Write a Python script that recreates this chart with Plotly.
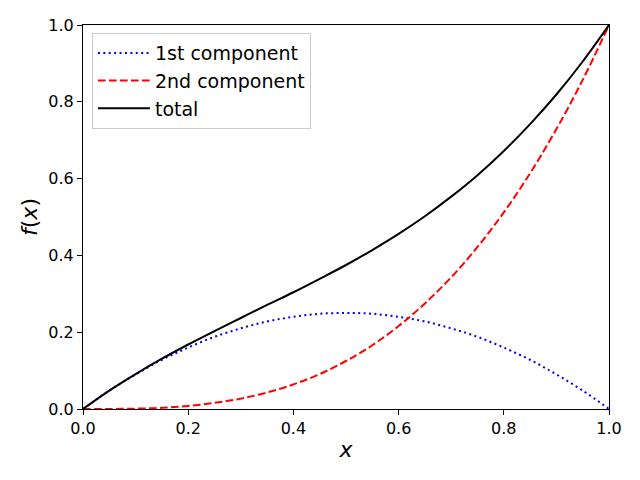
import plotly.graph_objects as go

x_vals = [0.0, 0.05, 0.1, 0.15, 0.2, 0.25, 0.3, 0.35, 0.4, 0.45, 0.5,
          0.55, 0.6, 0.65, 0.7, 0.75, 0.8, 0.85, 0.9, 0.95, 1.0]
first_component = [0.0, 0.048, 0.09, 0.128, 0.16, 0.188, 0.21, 0.228, 0.24, 0.248, 0.25,
                   0.248, 0.24, 0.228, 0.21, 0.188, 0.16, 0.128, 0.09, 0.048, 0.0]
second_component = [0.0, 0.0001, 0.001, 0.003, 0.008, 0.016, 0.027, 0.043, 0.064, 0.091, 0.125,
                    0.166, 0.216, 0.275, 0.343, 0.422, 0.512, 0.614, 0.729, 0.857, 1.0]
total = [0.0, 0.048, 0.091, 0.131, 0.168, 0.203, 0.237, 0.271, 0.304, 0.339, 0.375,
         0.414, 0.456, 0.502, 0.553, 0.609, 0.672, 0.742, 0.819, 0.905, 1.0]
tick_vals = [0.0, 0.2, 0.4, 0.6, 0.8, 1.0]
tick_text = ["0.0", "0.2", "0.4", "0.6", "0.8", "1.0"]

fig = go.Figure()
fig.add_trace(go.Scatter(x=x_vals, y=first_component, mode="lines", name="1st component",
                         line=dict(color="blue", dash="2px,3.4px", width=2, shape="spline")))
fig.add_trace(go.Scatter(x=x_vals, y=second_component, mode="lines", name="2nd component",
                         line=dict(color="red", dash="7.7px,3.3px", width=2, shape="spline")))
fig.add_trace(go.Scatter(x=x_vals, y=total, mode="lines", name="total",
                         line=dict(color="black", width=2, shape="spline")))

axis_common = dict(
    range=[0, 1], tickvals=tick_vals, ticktext=tick_text,
    showgrid=False, zeroline=False, showline=True, mirror=True,
    linecolor="black", linewidth=1, ticks="outside", ticklen=5, tickwidth=1,
    tickcolor="black", tickfont=dict(size=16, color="black", family="DejaVu Sans"),
)
fig.update_layout(
    width=640, height=480,
    margin=dict(l=83, r=31, t=25, b=71),
    paper_bgcolor="white", plot_bgcolor="white",
    font=dict(family="DejaVu Sans", color="black"),
    xaxis=dict(axis_common, title=dict(text="<i>x</i>", font=dict(size=22), standoff=4)),
    yaxis=dict(axis_common, title=dict(text="<i>f</i>(<i>x</i>)", font=dict(size=22), standoff=4)),
    legend=dict(x=0.017, y=0.979, xanchor="left", yanchor="top",
                bgcolor="rgba(255,255,255,0.8)", bordercolor="#cccccc", borderwidth=1,
                font=dict(size=19, color="black"), tracegroupgap=0, itemwidth=52),
    showlegend=True,
)
fig.write_html("out.html")
